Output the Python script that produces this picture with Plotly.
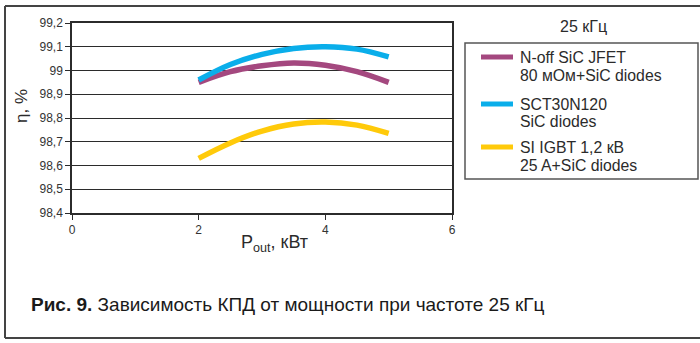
import plotly.graph_objects as go

# Output power, kW
p_out = [2, 2.5, 3, 3.5, 4, 4.5, 5]

# Efficiency, %
eff_jfet = [98.95, 98.995, 99.02, 99.032, 99.022, 98.995, 98.95]
eff_sct = [98.96, 99.025, 99.068, 99.093, 99.10, 99.09, 99.057]
eff_igbt = [98.63, 98.695, 98.745, 98.775, 98.783, 98.77, 98.735]

series_names = [
    ["N-off SiC JFET", "80 мОм+SiC diodes"],
    ["SCT30N120", "SiC diodes"],
    ["SI IGBT 1,2 кВ", "25 A+SiC diodes"],
]
series_values = [eff_jfet, eff_sct, eff_igbt]
colors = ["#a4487f", "#0aaeea", "#ffca0a"]

x_ticks = [0, 2, 4, 6]
y_ticks = [98.4, 98.5, 98.6, 98.7, 98.8, 98.9, 99.0, 99.1, 99.2]

W, H = 700, 343
ML, MR, MT, MB = 72, 248, 23, 130
PW, PH = W - ML - MR, H - MT - MB


def px(x):
    return (x - ML) / PW


def py(y):
    return (H - MB - y) / PH


FONT = "Liberation Sans, Arial, sans-serif"
INK = "#2b2b2b"

fig = go.Figure()
for vals, col, name in zip(series_values, colors, series_names):
    fig.add_trace(go.Scatter(
        x=p_out, y=vals, mode="lines", line=dict(color=col, width=5.5, shape="spline"),
        name=" ".join(name), showlegend=False, hoverinfo="x+y",
    ))

shapes = []
annotations = []

# outer frame (left, top, bottom)
frame = dict(type="line", xref="paper", yref="paper", line=dict(color="#444", width=2))
shapes.append(dict(frame, x0=px(5), x1=px(5), y0=py(6), y1=py(338)))
shapes.append(dict(frame, x0=px(5), x1=px(701), y0=py(6), y1=py(6)))
shapes.append(dict(frame, x0=px(5), x1=px(701), y0=py(338), y1=py(338)))

# legend box
shapes.append(dict(type="rect", xref="paper", yref="paper",
                   x0=px(465), x1=px(698), y0=py(43), y1=py(179),
                   line=dict(color="#555", width=1.5), fillcolor="rgba(0,0,0,0)"))
annotations.append(dict(text="25 кГц", xref="paper", yref="paper", x=px(583), y=py(26),
                        xanchor="center", yanchor="middle", showarrow=False,
                        font=dict(family=FONT, size=16, color=INK)))
legend_rows = [(57, 75), (104, 121), (147, 165)]
for (y1, y2), col, name in zip(legend_rows, colors, series_names):
    shapes.append(dict(type="line", xref="paper", yref="paper",
                       x0=px(481), x1=px(513), y0=py(y1), y1=py(y1),
                       line=dict(color=col, width=5)))
    for yy, txt in zip((y1, y2), name):
        annotations.append(dict(text=txt, xref="paper", yref="paper", x=px(518), y=py(yy),
                                xanchor="left", yanchor="middle", showarrow=False,
                                font=dict(family=FONT, size=15.8, color=INK)))

# axis titles
annotations.append(dict(text="η, %", xref="paper", yref="paper", x=px(21), y=py(106),
                        textangle=-90, xanchor="center", yanchor="middle", showarrow=False,
                        font=dict(family=FONT, size=17, color=INK)))
annotations.append(dict(text="P<sub>out</sub>, кВт", xref="paper", yref="paper",
                        x=px(274), y=py(243), xanchor="center", yanchor="middle",
                        showarrow=False, font=dict(family=FONT, size=18, color=INK)))

# caption
annotations.append(dict(text="<b>Рис. 9.</b> Зависимость КПД от мощности при частоте 25 кГц",
                        xref="paper", yref="paper", x=px(29), y=py(304),
                        xanchor="left", yanchor="middle", showarrow=False,
                        font=dict(family=FONT, size=19, color="#1a1a1a")))

fig.update_layout(
    width=W, height=H,
    margin=dict(l=ML, r=MR, t=MT, b=MB),
    paper_bgcolor="white", plot_bgcolor="white",
    separators=", ",
    shapes=shapes, annotations=annotations,
    xaxis=dict(range=[0, 6], tickvals=x_ticks, ticks="outside", ticklen=5, tickcolor=INK,
               showline=True, linecolor=INK, linewidth=1.5, mirror=True,
               showgrid=False, zeroline=False,
               tickfont=dict(family=FONT, size=12, color="#333")),
    yaxis=dict(range=[98.4, 99.2], tickvals=y_ticks,
               ticktext=[("%g" % v).replace(".", ",") for v in y_ticks],
               ticks="outside", ticklen=5, tickcolor=INK,
               showline=True, linecolor=INK, linewidth=1.5, mirror=True,
               showgrid=True, gridcolor=INK, gridwidth=1.4, zeroline=False,
               tickfont=dict(family=FONT, size=12, color="#333")),
)

fig.write_html("out.html")
